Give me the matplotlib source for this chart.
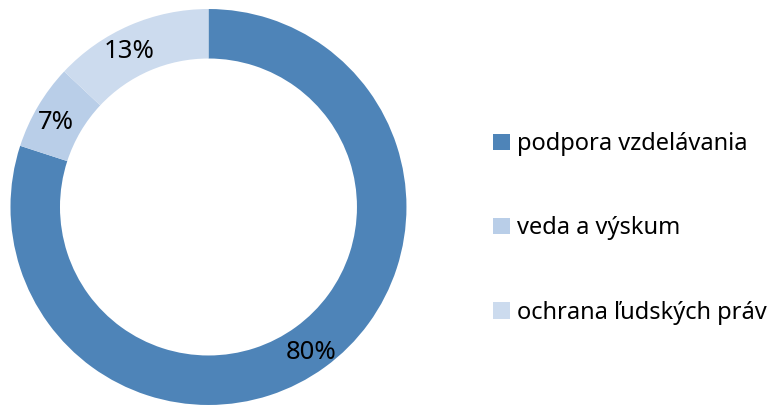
import matplotlib.pyplot as plt

# data
labels = ['podpora vzdelávania', 'veda a výskum', 'ochrana ľudských práv']
values = [80, 7, 13]
colors = ['#4E84B8', '#B9CEE8', '#CCDBEE']

plt.rcParams['font.family'] = ['Noto Sans', 'DejaVu Sans']

fig = plt.figure(figsize=(7.83, 4.05), dpi=100)
ax = fig.add_axes([0.0134, 0.0, 0.5057, 0.9778])

wedges, texts, autotexts = ax.pie(
    values, colors=colors, startangle=90, counterclock=False,
    radius=1.0, autopct='%1.0f%%', pctdistance=0.885,
    wedgeprops=dict(width=0.25, edgecolor='none'),
    textprops=dict(fontsize=18.5, color='black'))

# nudge labels a little like the original
shifts = [(0.0, -0.02), (-0.01, -0.025), (-0.05, -0.025)]
for t, (dx, dy) in zip(autotexts, shifts):
    x, y = t.get_position()
    t.set_position((x + dx, y + dy))

ax.set_xlim(-1, 1)
ax.set_ylim(-1, 1)
ax.set_aspect('equal')

fig.legend(wedges, labels, loc='center left', bbox_to_anchor=(0.6296, 0.436),
           frameon=False, fontsize=17, borderpad=0, borderaxespad=0,
           handlelength=0.7, handleheight=0.7, handletextpad=0.33,
           labelspacing=2.55)

plt.savefig('out.png', dpi=100)
